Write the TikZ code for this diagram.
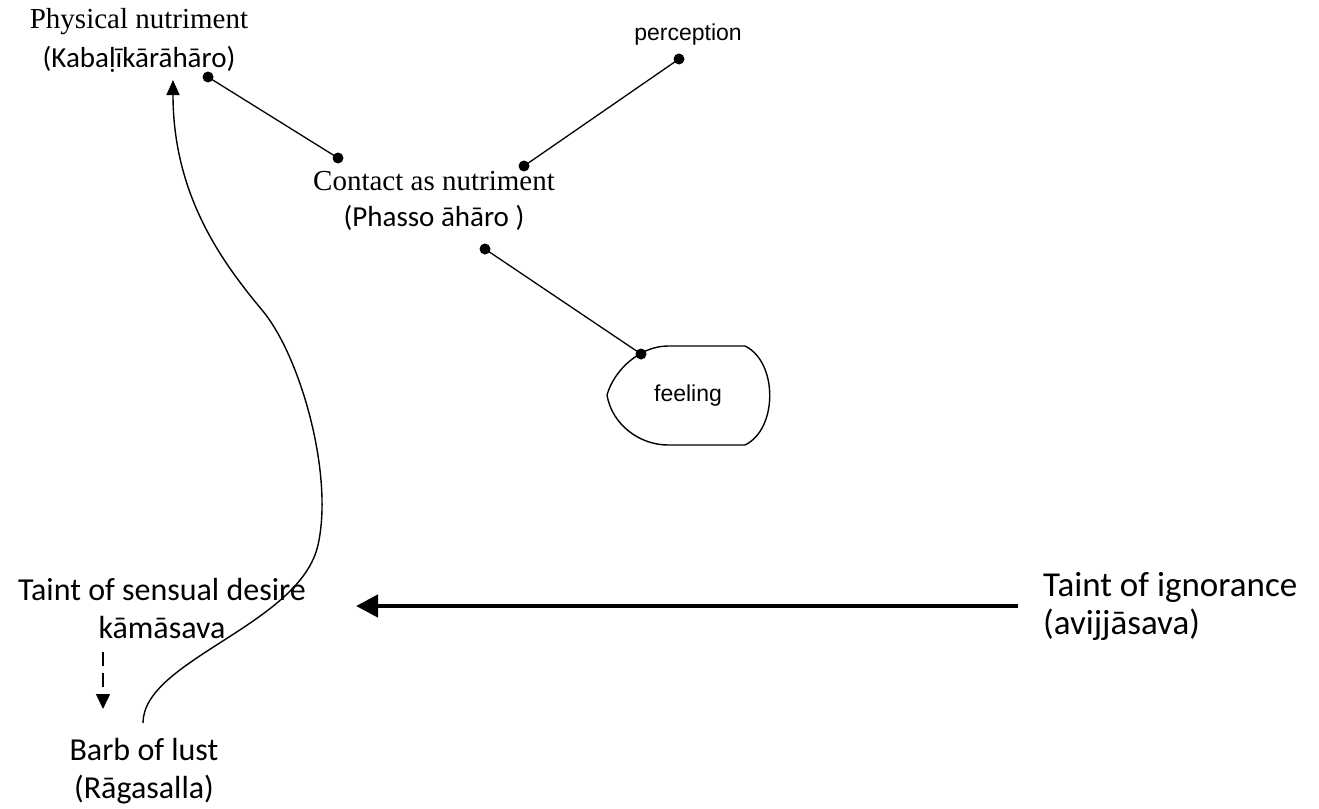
\documentclass[tikz,border=0pt]{standalone}
\usepackage{fontspec}
\setmainfont{Liberation Serif}
\newfontfamily\calfont{Carlito}
\newfontfamily\arialfont{Liberation Sans}
\usetikzlibrary{arrows.meta}

\tikzset{
  lbl/.style={inner sep=0pt, align=center},
  link/.style={line width=1.3pt},
  thin curve/.style={line width=1.4pt},
  tip/.style={-{Triangle[length=15pt,width=13pt]}},
}
\newcommand{\linkdot}[1]{\fill (#1) circle (5.5pt);}

\begin{document}
\begin{tikzpicture}[x=1pt,y=-1pt,line join=round]
\useasboundingbox (0,0) rectangle (1319,808);

% ---- labels ----
\node[lbl,font=\fontsize{29}{39}\selectfont] (phys) at (139,40)
  {Physical nutriment\\ {\calfont (Kabaḷīkārāhāro)}};
\node[lbl,font=\fontsize{29}{36}\selectfont] (contact) at (434,201)
  {Contact as nutriment\\ {\calfont (Phasso āhāro )}};
\node[lbl,font=\arialfont\fontsize{23}{26}\selectfont] (perc) at (688,35) {perception};
\node[lbl,font=\arialfont\fontsize{23}{26}\selectfont] (feel) at (688,396) {feeling};
\node[lbl,font=\calfont\fontsize{32}{38}\selectfont] (desire) at (162,608)
  {Taint of sensual desire\\kāmāsava};
\node[lbl,font=\calfont\fontsize{32}{38}\selectfont] (barb) at (144,771)
  {Barb of lust\\(Rāgasalla)};
\node[lbl,align=left,anchor=west,font=\calfont\fontsize{35}{38}\selectfont] (ignor) at (1043,606)
  {Taint of ignorance\\(avijjāsava)};

% ---- feeling outline ----
\draw[line width=1.4pt] (668,346) -- (745,346)
  .. controls (778,362) and (778,429) .. (745,445)
  -- (668,445)
  .. controls (640,445) and (612,425) .. (607,395)
  .. controls (614,370) and (640,346) .. (668,346) -- cycle;

% ---- connector end points ----
\coordinate (physOut) at (208,77);
\coordinate (contA)   at (338,158);
\coordinate (contB)   at (524,166);
\coordinate (percIn)  at (679,59);
\coordinate (contC)   at (485,249);
\coordinate (feelIn)  at (641,354);
\coordinate (barbTop) at (143,723);
\coordinate (physIn)  at (173,80);
\coordinate (ignorOut) at (1018,606);
\coordinate (desireIn) at (356,606);
\coordinate (desireOut) at (103,652);
\coordinate (barbIn)   at (103,709);

% ---- straight links with round ends ----
\draw[link] (physOut) -- (contA);
\draw[link] (contB) -- (percIn);
\draw[link] (contC) -- (feelIn);
\foreach \p in {physOut,contA,contB,percIn,contC,feelIn} {\linkdot{\p}}

% ---- long curved arrow ----
\draw[thin curve,tip] (barbTop)
  .. controls (143,660) and (300,625) .. (318,545)
  .. controls (334,474) and (300,355) .. (262,310)
  .. controls (222,262) and (173,195) .. (physIn);

% ---- thick arrow ----
\draw[line width=4.5pt,-{Triangle[length=22pt,width=22pt]}] (ignorOut) -- (desireIn);

% ---- dashed arrow ----
\draw[line width=1.4pt,dash pattern=on 14pt off 7pt,-{Triangle[length=15pt,width=14pt]}] (desireOut) -- (barbIn);

\end{tikzpicture}
\end{document}
